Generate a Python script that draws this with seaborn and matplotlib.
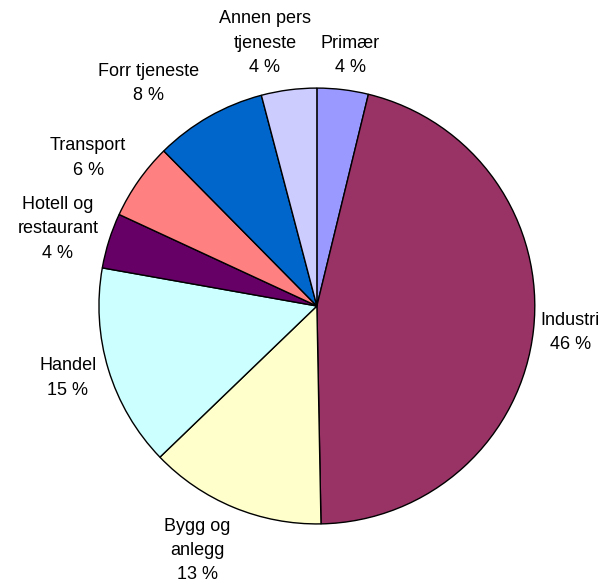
import matplotlib
matplotlib.use("Agg")
import matplotlib.pyplot as plt
import seaborn as sns
import numpy as np

# data (clockwise from 12 o'clock)
sectors = ["Primær", "Industri", "Bygg og\nanlegg", "Handel", "Hotell og\nrestaurant",
           "Transport", "Forr tjeneste", "Annen pers\ntjeneste"]
shares = [3.8, 45.9, 13.1, 15.0, 4.1, 5.7, 8.3, 4.1]
colors = ["#9999FF", "#993366", "#FFFFCC", "#CCFFFF", "#660066",
          "#FF8080", "#0066CC", "#CCCCFF"]

# label placement (radius multiples, clockwise degree nudges) like Excel's layout
label_r = [1.16, 1.17, 1.25, 1.19, 1.24, 1.25, 1.28, 1.23]
label_nudge = [0.7, -0.3, 3.5, 0.8, -0.9, -2.2, -7.4, -3.8]

sns.set_style("white")
plt.rcParams['font.family'] = ['Liberation Sans', 'DejaVu Sans']

fig = plt.figure(figsize=(6.06, 5.86), dpi=100)
ax = fig.add_axes([0.0734, 0.0128, 0.899, 0.930])

wedges, _ = ax.pie(shares, colors=colors, startangle=90, counterclock=False,
                   wedgeprops={'edgecolor': 'black', 'linewidth': 1.0})

for w, s, v, r, nudge in zip(wedges, sectors, shares, label_r, label_nudge):
    mid = np.deg2rad((w.theta1 + w.theta2) / 2 - nudge)
    ax.text(r * np.cos(mid), r * np.sin(mid), f"{s}\n{round(v):d} %",
            ha='center', va='center', multialignment='center',
            fontsize=13, color='black', linespacing=1.55)

fig.savefig("out.png", dpi=100)
